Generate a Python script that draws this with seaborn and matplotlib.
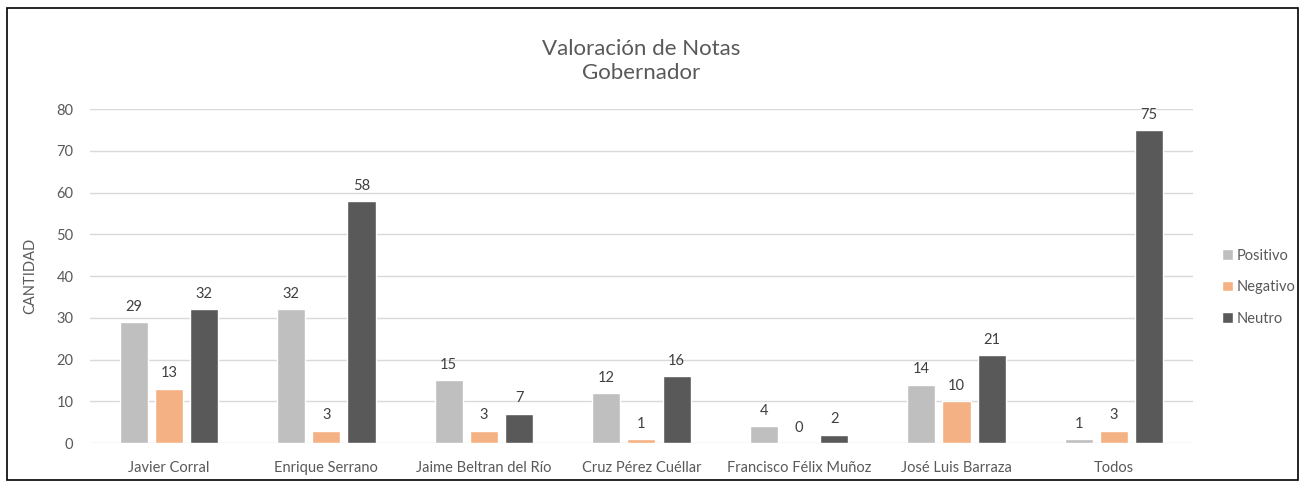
import pandas as pd
import seaborn as sns
import matplotlib.pyplot as plt
from matplotlib.patches import Rectangle

# datos de la grafica
candidatos = ["Javier Corral", "Enrique Serrano", "Jaime Beltran del Río",
              "Cruz Pérez Cuéllar", "Francisco Félix Muñoz",
              "José Luis Barraza", "Todos"]
positivo = [29, 32, 15, 12, 4, 14, 1]
negativo = [13, 3, 3, 1, 0, 10, 3]
neutro = [32, 58, 7, 16, 2, 21, 75]
series = ["Positivo", "Negativo", "Neutro"]
colores = ["#BFBFBF", "#F4B183", "#595959"]

df = pd.DataFrame({"candidato": candidatos, "Positivo": positivo,
                   "Negativo": negativo, "Neutro": neutro})
df = df.melt(id_vars="candidato", var_name="tipo", value_name="cantidad")

sns.set_theme(style="white")
plt.rcParams["font.family"] = ["Lato", "DejaVu Sans"]
gris = "#595959"

fig = plt.figure(figsize=(13.05, 4.87), dpi=100)
ax = fig.add_axes([0.069, 0.0903, 0.845, 0.6857])

sns.barplot(data=df, x="candidato", y="cantidad", hue="tipo",
            hue_order=series, palette=colores, order=candidatos,
            width=0.67, gap=0.2, saturation=1, ax=ax)

for cont in ax.containers:
    ax.bar_label(cont, padding=6, fontsize=10.5, color="#404040")

ax.set_ylim(0, 80)
ax.set_yticks(range(0, 81, 10))
ax.yaxis.grid(True, color="#D9D9D9", linewidth=1)
ax.set_axisbelow(True)
for s in ax.spines.values():
    s.set_visible(False)
ax.tick_params(axis="both", colors=gris, labelsize=10.5, length=0)
ax.tick_params(axis="x", pad=13)
ax.tick_params(axis="y", pad=12)
ax.set_xlabel("")
ax.set_ylabel("CANTIDAD", color=gris, fontsize=10.5, labelpad=14)

ax.set_title("Valoración de Notas\nGobernador", color=gris, fontsize=16,
             pad=22, linespacing=1.25)

leg = ax.legend(loc="center left", bbox_to_anchor=(1.015, 0.467), frameon=False,
                fontsize=10.5, handlelength=0.7, handleheight=0.7,
                handletextpad=0.3, labelspacing=1.2)
for t in leg.get_texts():
    t.set_color(gris)

fig.patches.append(Rectangle((0.0054, 0.014), 0.9893, 0.97, transform=fig.transFigure,
                             fill=False, edgecolor="black", linewidth=1.2))

fig.savefig("out.png", dpi=100)
